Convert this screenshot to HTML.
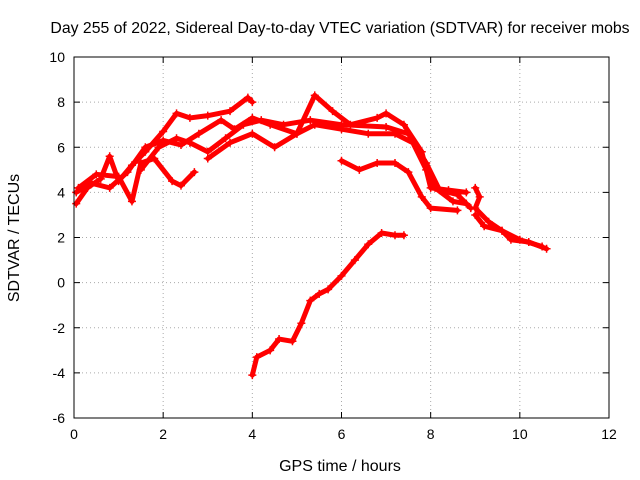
<!DOCTYPE html>
<html><head><meta charset="utf-8"><style>
body{margin:0;background:#fff;}
svg{display:block;font-family:"Liberation Sans",sans-serif;}
</style></head><body>
<svg id="c" width="640" height="480" xmlns="http://www.w3.org/2000/svg">
<text x="340" y="33" text-anchor="middle" font-size="15.8">Day 255 of 2022, Sidereal Day-to-day VTEC variation (SDTVAR) for receiver mobs</text>
<text x="340" y="471" text-anchor="middle" font-size="16">GPS time / hours</text>
<text transform="translate(19,238) rotate(-90)" text-anchor="middle" font-size="16">SDTVAR / TECUs</text>
<g id="grid"></g><g id="ticks"></g><g id="series"></g>
<rect x="74" y="57" width="535" height="361" fill="none" stroke="#000"/>
</svg>
<script>
const xTicks=[0,2,4,6,8,10,12];
const yTicks=[-6,-4,-2,0,2,4,6,8,10];
const traceA=[[4.0,-4.1],[4.1,-3.3],[4.4,-3.0],[4.6,-2.5],[4.9,-2.6],[5.1,-1.8],[5.3,-0.8],[5.5,-0.5],[5.7,-0.3],[6.0,0.3],[6.3,1.0],[6.6,1.7],[6.9,2.2],[7.2,2.1],[7.4,2.1]];
const traceB1=[[0.05,3.5],[0.3,4.2],[0.6,4.6],[0.8,5.6],[1.0,4.5],[1.3,5.2],[1.6,5.8],[2.0,6.7],[2.3,7.5],[2.6,7.3],[3.0,7.4],[3.5,7.6],[3.9,8.2],[4.0,8.0]];
const traceB2=[[0.05,4.0],[0.4,4.4],[0.8,4.2],[1.2,4.9],[1.6,6.0],[2.0,6.3],[2.4,6.1],[2.8,6.6],[3.3,7.2],[3.6,6.8],[4.0,7.3],[4.4,7.0],[5.0,6.6],[5.4,7.0],[6.0,6.8],[6.6,6.6],[7.2,6.6],[7.6,6.2],[7.9,5.0],[8.1,4.2],[8.5,3.6],[8.8,3.5]];
const traceB3=[[0.1,4.2],[0.5,4.8],[1.0,4.7],[1.3,3.6],[1.5,5.3],[1.8,5.5],[2.2,4.5],[2.4,4.3],[2.7,4.9]];
const traceB4=[[1.5,5.0],[1.9,6.0],[2.3,6.4],[2.6,6.2],[3.0,5.8],[3.4,6.4],[3.8,7.0],[4.2,7.2],[4.7,7.0],[5.3,7.2],[6.0,7.0],[7.0,6.9],[7.5,6.6],[7.9,5.3],[8.2,4.1],[8.6,3.9],[8.9,3.3]];
const traceB5=[[3.0,5.5],[3.5,6.2],[4.0,6.6],[4.5,6.0],[5.0,6.6],[5.4,8.3],[5.8,7.6],[6.2,7.0],[6.8,7.3],[7.0,7.5],[7.4,7.0],[7.8,5.8],[8.0,4.2],[8.4,4.1],[8.8,4.0]];
const traceB6=[[6.0,5.4],[6.4,5.0],[6.8,5.3],[7.2,5.3],[7.5,4.9],[7.8,3.8],[8.0,3.3],[8.6,3.2]];
const traceB7=[[9.0,4.2],[9.1,3.8],[9.0,3.3],[9.3,2.7],[9.6,2.3],[9.8,1.9],[10.2,1.8],[10.6,1.5]];
const traceB8=[[9.0,3.0],[9.2,2.5],[9.6,2.3],[10.0,1.9],[10.5,1.6]];
const traces=[traceA,traceB1,traceB2,traceB3,traceB4,traceB5,traceB6,traceB7,traceB8];
const NS="http://www.w3.org/2000/svg";
const X0=74,X1=609,Y0=418,Y1=57;
const sx=v=>X0+(v-0)/(12-0)*(X1-X0);
const sy=v=>Y0-(v+6)/(16)*(Y0-Y1);
const grid=document.getElementById('grid'),ticks=document.getElementById('ticks'),ser=document.getElementById('series');
function mk(t,a,p){const e=document.createElementNS(NS,t);for(const k in a)e.setAttribute(k,a[k]);p.appendChild(e);return e;}
xTicks.forEach(v=>{
 const x=sx(v);
 if(v>0&&v<12){const g=mk('line',{x1:x,x2:x,y1:Y1,y2:Y0,stroke:'#aaa','stroke-dasharray':'1,3'},grid);
 
 }
 mk('line',{x1:x,x2:x,y1:Y0,y2:Y0-6,stroke:'#000'},ticks);
 mk('line',{x1:x,x2:x,y1:Y1,y2:Y1+6,stroke:'#000'},ticks);
 const t=mk('text',{x:x,y:Y0+21,'text-anchor':'middle','font-size':14},ticks);t.textContent=v;
 
 
});
yTicks.forEach(v=>{
 const y=sy(v);
 if(v>-6&&v<10){const g=mk('line',{x1:X0,x2:X1,y1:y,y2:y,stroke:'#aaa','stroke-dasharray':'1,3'},grid);
 
 }
 mk('line',{x1:X0,x2:X0+6,y1:y,y2:y,stroke:'#000'},ticks);
 mk('line',{x1:X1,x2:X1-6,y1:y,y2:y,stroke:'#000'},ticks);
 const t=mk('text',{x:X0-9,y:y+5,'text-anchor':'end','font-size':14},ticks);t.textContent=v;
 
 
});
traces.forEach((tr,i)=>{
 const p=mk('polyline',{points:tr.map(d=>sx(d[0])+','+sy(d[1])).join(' '),fill:'none',stroke:'#f00','stroke-width':5,'stroke-linejoin':'round','stroke-linecap':'round'},ser);
 
 
 tr.forEach(d=>{const x=sx(d[0]),y=sy(d[1]);
  const m=mk('path',{d:`M${x-4},${y}H${x+4}M${x},${y-4}V${y+4}`,stroke:'#f00','stroke-width':1.5},ser);
  
  
 });
});
</script>
</body></html>
